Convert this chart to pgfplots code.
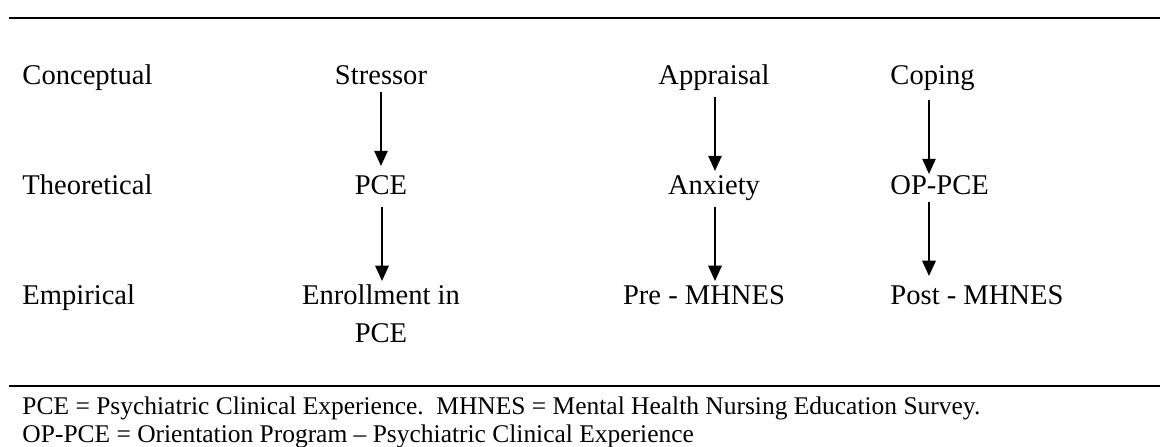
\documentclass[border=0pt]{standalone}
\usepackage{fontspec}
\setmainfont{Liberation Serif}
\usepackage{pgfplots}
\pgfplotsset{compat=1.18}
\usetikzlibrary{arrows.meta}
\begin{document}
\begin{tikzpicture}
\begin{axis}[
  name=main,
  scale only axis,
  width=487.4pt, height=187.8pt,
  xmin=0, xmax=1160, ymin=-447, ymax=0,
  hide axis, clip=false,
  cycle list={{black, no markers, line width=0.85pt}},
]
% rules
\addplot[black, no markers, line width=0.85pt] coordinates {(9,-18) (1160,-18)};
\addplot[black, no markers, line width=0.7pt] coordinates {(9,-386) (1160,-386)};
% arrows
\addplot[black, no markers, line width=0.85pt, -{Triangle[width=5.6pt,length=6.4pt]}] coordinates {(381,-92) (381,-166)};
\addplot[black, no markers, line width=0.85pt, -{Triangle[width=5.6pt,length=6.4pt]}] coordinates {(382,-207) (382,-281)};
\addplot[black, no markers, line width=0.85pt, -{Triangle[width=5.6pt,length=6.4pt]}] coordinates {(715,-97) (715,-171)};
\addplot[black, no markers, line width=0.85pt, -{Triangle[width=5.6pt,length=6.4pt]}] coordinates {(715,-207) (715,-281)};
\addplot[black, no markers, line width=0.85pt, -{Triangle[width=5.6pt,length=6.4pt]}] coordinates {(929,-100) (929,-174)};
\addplot[black, no markers, line width=0.85pt, -{Triangle[width=5.6pt,length=6.4pt]}] coordinates {(929,-202) (929,-276)};
% row labels
\begin{scope}[every node/.style={font=\fontsize{12}{14}\selectfont, inner sep=0pt}]
\node[anchor=base west] at (axis cs:22,-85) {Conceptual};
\node[anchor=base west] at (axis cs:22,-195) {Theoretical};
\node[anchor=base west] at (axis cs:22,-305) {Empirical};
\node[anchor=base] at (axis cs:381,-85) {Stressor};
\node[anchor=base] at (axis cs:381,-195) {PCE};
\node[anchor=base] at (axis cs:381,-305) {Enrollment in};
\node[anchor=base] at (axis cs:381,-343) {PCE};
\node[anchor=base] at (axis cs:714,-85) {Appraisal};
\node[anchor=base] at (axis cs:714,-195) {Anxiety};
\node[anchor=base] at (axis cs:704,-305) {Pre - MHNES};
\node[anchor=base west] at (axis cs:890,-85) {Coping};
\node[anchor=base west] at (axis cs:890,-195) {OP-PCE};
\node[anchor=base west] at (axis cs:890,-305) {Post - MHNES};
\end{scope}
\begin{scope}[every node/.style={font=\fontsize{10.7}{12.8}\selectfont, inner sep=0pt}]
\node[anchor=base west] at (axis cs:22,-415) {PCE = Psychiatric Clinical Experience.\ \ MHNES = Mental Health Nursing Education Survey.};
\node[anchor=base west] at (axis cs:22,-443) {OP-PCE = Orientation Program -- Psychiatric Clinical Experience};
\end{scope}
\end{axis}
\pgfresetboundingbox
\path[use as bounding box] (main.south west) rectangle (main.north east);
\end{tikzpicture}
\end{document}
